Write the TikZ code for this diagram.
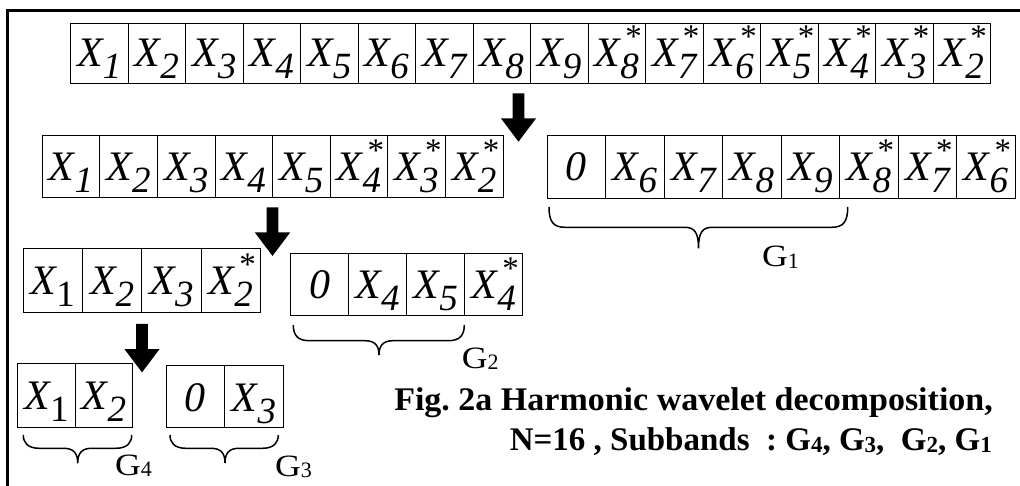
\documentclass[tikz,border=0pt]{standalone}
\usepackage{fontspec}
\setmainfont{Liberation Serif}[ItalicFont={Liberation Serif Italic},BoldFont={Liberation Serif Bold}]
\frenchspacing
\newcommand\Xc[1]{\fontsize{42}{42}\selectfont\itshape X\raisebox{-12pt}{\fontsize{37}{37}\selectfont #1}}
\newcommand\Xu[1]{\fontsize{42}{42}\selectfont\itshape X\raisebox{-12pt}{\upshape\fontsize{37}{37}\selectfont #1}}
\newcommand\Xs[1]{\fontsize{42}{42}\selectfont\itshape X\rlap{\kern5pt\raisebox{19pt}{\upshape\fontsize{33}{33}\selectfont *}}\raisebox{-12pt}{\fontsize{37}{37}\selectfont #1}}
\newcommand\Zc{\fontsize{42}{42}\selectfont\itshape 0}
\newcommand\gsub[1]{\raisebox{-1.5pt}{\fontsize{22}{22}\selectfont #1}}
\newcommand\csub[1]{\raisebox{-2pt}{\fontsize{23}{23}\selectfont #1}}
\newcommand\gbrace[6]{\draw[bracel] (#1,#4) .. controls (#1,{#5-6}) and ({#1+4},#5) .. ({#1+16},#5) -- ({#2-14},#5) .. controls ({#2-4},#5) and (#2,{#5+5}) .. (#2,#6) .. controls (#2,{#5+5}) and ({#2+4},#5) .. ({#2+14},#5) -- ({#3-16},#5) .. controls ({#3-4},#5) and (#3,{#5-6}) .. (#3,#4);}
\tikzset{
  cell/.style={draw, line width=1pt, inner sep=0pt, anchor=north west},
  bracel/.style={line width=1.5pt},
  glabel/.style={anchor=base west, inner sep=0pt, font=\fontsize{31}{31}\selectfont},
  caption/.style={anchor=base east, inner sep=0pt, font=\bfseries\fontsize{33}{33}\selectfont},
  blockarrow/.pic={\fill[black] (-5.8,0) -- (5.8,0) -- (5.8,25) -- (17.6,25) -- (0,48.4) -- (-17.6,25) -- (-5.8,25) -- cycle;}
}
\begin{document}
\begin{tikzpicture}[x=1pt,y=-1pt]
\useasboundingbox (0,0) rectangle (1020,486);
% frame
\draw[line width=3pt] (7.5,486) -- (7.5,10.5) -- (1020,10.5);
% row 1
\foreach[count=\i] \t in {{\Xc{1}},{\Xc{2}},{\Xc{3}},{\Xc{4}},{\Xc{5}},{\Xc{6}},{\Xc{7}},{\Xc{8}},{\Xc{9}},{\Xs{8}},{\Xs{7}},{\Xs{6}},{\Xs{5}},{\Xs{4}},{\Xs{3}},{\Xs{2}}}
  \node[cell, minimum width=57.5pt, text height=43.6pt, text depth=17pt] (ra\i) at ({70+57.5*(\i-1)},22.7) {\t};
% row 2 left
\foreach[count=\i] \t in {{\Xc{1}},{\Xc{2}},{\Xc{3}},{\Xc{4}},{\Xc{5}},{\Xs{4}},{\Xs{3}},{\Xs{2}}}
  \node[cell, minimum width=57.6pt, text height=45pt, text depth=17.3pt] (rb\i) at ({41.7+57.6*(\i-1)},135) {\t};
% row 2 right
\foreach[count=\i] \t in {{\Zc},{\Xc{6}},{\Xc{7}},{\Xc{8}},{\Xc{9}},{\Xs{8}},{\Xs{7}},{\Xs{6}}}
  \node[cell, minimum width=58.5pt, text height=45pt, text depth=18pt] (rc\i) at ({546.7+58.5*(\i-1)},135) {\t};
% row 3 left
\foreach[count=\i] \t in {{\Xu{1}},{\Xc{2}},{\Xc{3}},{\Xs{2}}}
  \node[cell, minimum width=59.3pt, text height=46pt, text depth=18pt] (rd\i) at ({22.7+59.3*(\i-1)},247.7) {\t};
% row 3 right
\foreach[count=\i] \t in {{\Zc},{\Xc{4}},{\Xc{5}},{\Xs{4}}}
  \node[cell, minimum width=58.1pt, text height=45pt, text depth=16.7pt] (re\i) at ({290+58.1*(\i-1)},253.3) {\t};
% row 4 left
\foreach[count=\i] \t in {{\Xu{1}},{\Xc{2}}}
  \node[cell, minimum width=57.5pt, text height=46pt, text depth=17.4pt] (rf\i) at ({17.3+57.5*(\i-1)},363.3) {\t};
% row 4 right
\foreach[count=\i] \t in {{\Zc},{\Xc{3}}}
  \node[cell, minimum width=58.5pt, text height=45.5pt, text depth=16.8pt] (rg\i) at ({165.7+58.5*(\i-1)},365) {\t};
% arrows
\pic at (518.5,93.3) {blockarrow};
\pic at (272.5,207.5) {blockarrow};
\pic at (142,324) {blockarrow};
% braces
\gbrace{549}{698.5}{847.7}{207}{227.3}{248.3}
\gbrace{293.3}{379}{464.3}{325}{340.7}{355}
\gbrace{23.3}{77.7}{131.7}{435}{448.3}{463.3}
\gbrace{170}{225}{278.3}{435}{448.3}{463}
% group labels
\node[glabel] (g1) at (762,266.7) {\scalebox{1.15}[1]{G}\gsub{1}};
\node[glabel] (g2) at (461.7,368.3) {\scalebox{1.15}[1]{G}\gsub{2}};
\node[glabel] (g4) at (115,475) {\scalebox{1.15}[1]{G}\gsub{4}};
\node[glabel] (g3) at (275,476) {\scalebox{1.15}[1]{G}\gsub{3}};
% caption
\node[caption] (cap1) at (993,410) {\scalebox{1.03}[1]{Fig. 2a Harmonic wavelet decomposition,}};
\node[caption] (cap2) at (992,450) {N=16 , Subbands~ : G\csub{4}, G\csub{3}, ~G\csub{2}, G\csub{1}};
\end{tikzpicture}
\end{document}
